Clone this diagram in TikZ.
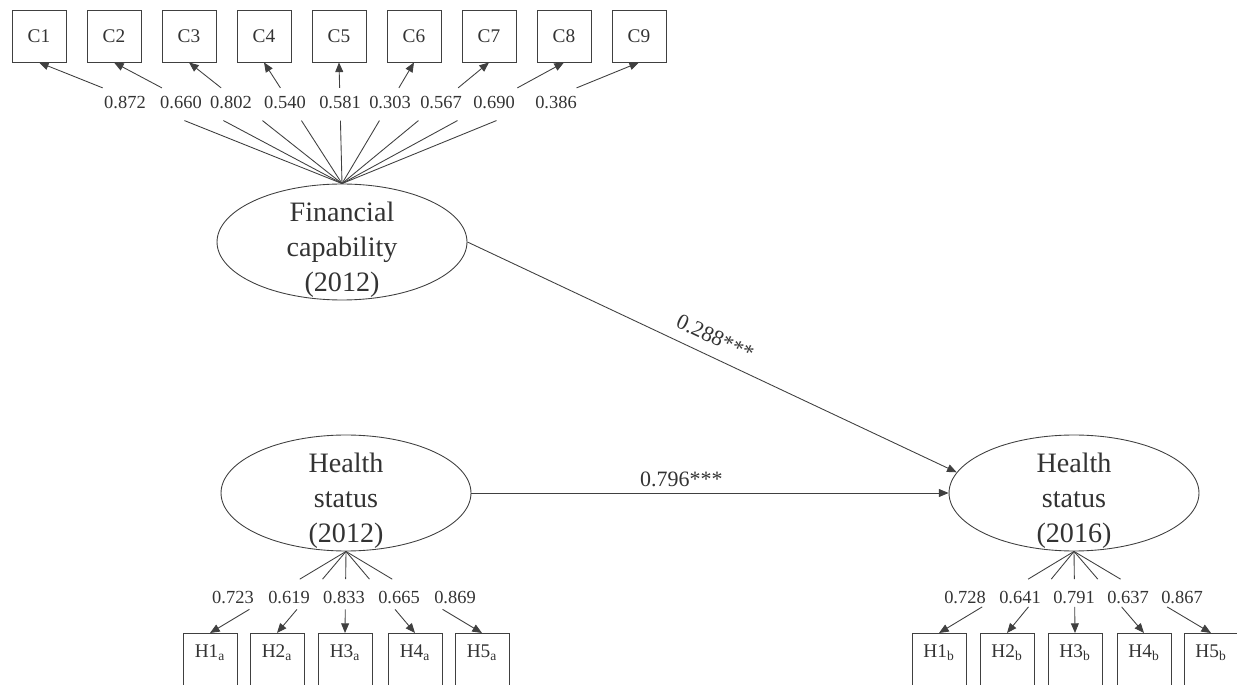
\documentclass[tikz,border=0pt]{standalone}
\usepackage{fontspec}
\setmainfont{Liberation Serif}
\usetikzlibrary{shapes,calc,arrows.meta}

\begin{document}
\begin{tikzpicture}[x=0.02cm, y=-0.02cm, line width=0.5pt, draw=black!75, text=black!80,
      >={Triangle[length=5.5pt,width=4.5pt]},
      latent/.style={draw, ellipse, minimum width=5cm, minimum height=2.32cm},
      obs/.style={draw, rectangle, minimum width=1.08cm, minimum height=1.04cm, font=\fontsize{11}{13}\selectfont},
      obsb/.style={draw, rectangle, anchor=north, minimum width=1.08cm, inner ysep=0pt,
                   text height=0.48cm, text depth=0.86cm, font=\fontsize{11}{13}\selectfont},
      coef/.style={font=\fontsize{10.5}{12}\selectfont},
      pathcoef/.style={font=\fontsize{12.5}{15}\selectfont},
      ltext/.style={align=center, yshift=-4.5pt, font=\fontsize{16}{19.8}\selectfont}]
      \clip (0,0) rectangle (1237,685);
      \node[latent, label={[ltext]center:{Financial\\capability\\(2012)}}] (fc) at (342,242) {};
      \node[latent, label={[ltext]center:{Health\\status\\(2012)}}] (hs12) at (346,493) {};
      \node[latent, label={[ltext]center:{Health\\status\\(2016)}}] (hs16) at (1074,493) {};
      \foreach \i/\lx/\v in {1/125/0.872, 2/181/0.660, 3/231/0.802, 4/285/0.540, 5/340/0.581,
                             6/390/0.303, 7/441/0.567, 8/494/0.690, 9/556/0.386} {
        \node[obs] (c\i) at (-36+75*\i,36) {C\i};
        \node[coef] (lc\i) at (\lx,103) {\v};
        \draw (fc.north) -- ($(fc.north)!0.52!(c\i.south)$);
        \draw[->] ($(fc.north)!0.79!(c\i.south)$) -- (c\i.south);
      }
      \foreach \i/\xa/\la/\va/\xb/\lb/\vb in {1/210/233/0.723/939/965/0.728, 2/277/289/0.619/1007/1020/0.641,
                                             3/345/344/0.833/1075/1074/0.791, 4/415/399/0.665/1144/1128/0.637,
                                             5/482/455/0.869/1211/1182/0.867} {
        \node[obsb] (ha\i) at (\xa,633) {H\i\textsubscript{a}};
        \node[obsb] (hb\i) at (\xb,633) {H\i\textsubscript{b}};
        \node[coef] (la\i) at (\la,597) {\va};
        \node[coef] (lb\i) at (\lb,597) {\vb};
        \draw (hs12.south) -- ($(hs12.south)!0.34!(ha\i.north)$);
        \draw[->] ($(hs12.south)!0.71!(ha\i.north)$) -- (ha\i.north);
        \draw (hs16.south) -- ($(hs16.south)!0.34!(hb\i.north)$);
        \draw[->] ($(hs16.south)!0.68!(hb\i.north)$) -- (hb\i.north);
      }
      \draw[->] (fc.east) -- node[pathcoef, sloped, above=3pt, pos=0.49] {0.288***} (hs16.170);
      \draw[->] (hs12.east) -- node[pathcoef, above, pos=0.44] {0.796***} (hs16.west);
\end{tikzpicture}
\end{document}
